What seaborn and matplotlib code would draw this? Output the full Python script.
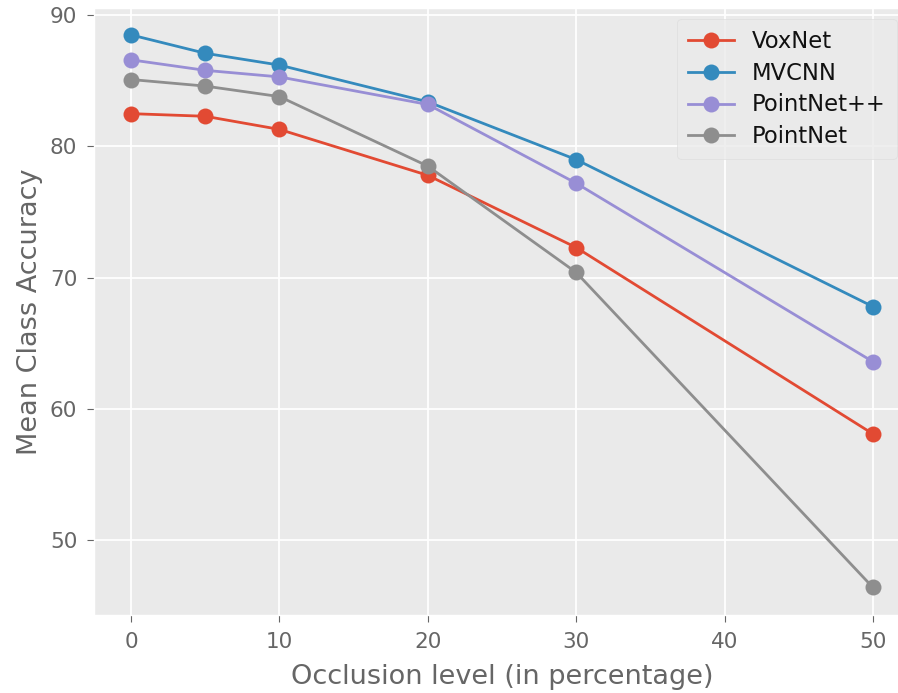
import pandas as pd
import seaborn as sns
import matplotlib
matplotlib.use("Agg")
import matplotlib.pyplot as plt

# occlusion levels (x) and accuracy per model
occlusion = [0, 5, 10, 20, 30, 50]
voxnet = [82.5, 82.3, 81.3, 77.8, 72.3, 58.1]
mvcnn = [88.5, 87.1, 86.2, 83.4, 79.0, 67.8]
pointnet_pp = [86.6, 85.8, 85.3, 83.2, 77.2, 63.6]
pointnet = [85.1, 84.6, 83.8, 78.5, 70.4, 46.4]

models = ["VoxNet", "MVCNN", "PointNet++", "PointNet"]
colors = ["#E24A33", "#348ABD", "#988ED5", "#8E8E8E"]

rows = []
for name, vals in zip(models, [voxnet, mvcnn, pointnet_pp, pointnet]):
    for x, y in zip(occlusion, vals):
        rows.append({"occlusion": x, "acc": y, "model": name})
df = pd.DataFrame(rows)

plt.style.use("ggplot")
fig = plt.figure(figsize=(8.98, 6.93), dpi=100)
ax = fig.add_axes([94 / 898, 1 - 615 / 693, (910 - 94) / 898, (615 - 8) / 693])
ax.set_facecolor("#EAEAEA")

for name, c in zip(models, colors):
    sns.lineplot(data=df[df["model"] == name], x="occlusion", y="acc", ax=ax,
                 color=c, marker="o", markersize=11.5, markeredgewidth=0,
                 linewidth=2.0, label=name)

ax.set_xlim(-2.5, 52.5)
ax.set_ylim(44.3, 90.55)
ax.set_xticks([0, 10, 20, 30, 40, 50])
ax.set_yticks([50, 60, 70, 80, 90])
ax.tick_params(labelsize=15.5, colors="#666666", labelcolor="#666666", length=5, pad=7)
ax.set_xlabel("Occlusion level (in percentage)", fontsize=19.5, color="#666666", labelpad=9)
ax.set_ylabel("Mean Class Accuracy", fontsize=19.5, color="#666666", labelpad=5)
ax.grid(True, color="white", linewidth=1.3)

leg = ax.legend(loc="upper right", bbox_to_anchor=(0.984, 0.982), borderaxespad=0,
                fontsize=16.3, frameon=True, handlelength=2.0, borderpad=0.5,
                labelspacing=0.38, handletextpad=0.8)
leg.get_frame().set_facecolor("#EBEBEB")
leg.get_frame().set_edgecolor("#DADADA")
for t in leg.get_texts():
    t.set_color("#111111")

fig.savefig("out.png", dpi=100)
